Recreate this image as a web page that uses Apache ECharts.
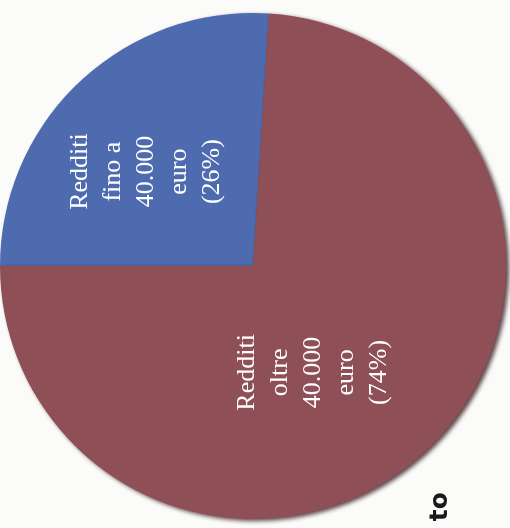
<!DOCTYPE html>
<html>
<head>
<meta charset="utf-8">
<script src="https://cdn.jsdelivr.net/npm/echarts@6/dist/echarts.min.js"></script>
<style>
html,body{margin:0;padding:0;background:#fbfbf9;}
#chart{width:510px;height:528px;}
</style>
</head>
<body>
<div id="chart"></div>
<script>
const categories = ["Redditi\nfino a\n40.000\neuro\n(26%)", "Redditi\noltre\n40.000\neuro\n(74%)"];
const values = [26, 74];
const colors = ["#4e6bb0", "#8e4f56"];

// screen-space label shifts [x, y]
const labelShift = [[-18, 0], [-28, 12]];

const chart = echarts.init(document.getElementById('chart'));
chart.setOption({
  backgroundColor: '#fbfbf9',
  animation: false,
  graphic: [{
    type: 'text',
    left: 428, top: 492,
    rotation: Math.PI / 2,
    style: { text: 'to', font: 'bold 25px "DejaVu Sans"', fill: '#1a1a1a' }
  }],
  series: [{
    type: 'pie',
    center: [253, 266],
    radius: 253,
    startAngle: 180,
    clockwise: true,
    data: categories.map((c, i) => ({ name: c, value: values[i], itemStyle: { color: colors[i] } })),
    itemStyle: {
      shadowColor: 'rgba(40,10,15,0.75)',
      shadowBlur: 4,
      shadowOffsetX: 3,
      shadowOffsetY: 2
    },
    label: {
      show: true,
      position: 'inside',
      rotate: 90,
      formatter: '{b}',
      color: '#ffffff',
      fontFamily: '"Liberation Serif", "DejaVu Serif", serif',
      fontSize: 26,
      lineHeight: 33,
      align: 'center'
    },
    labelLayout: function (p) {
      const s = labelShift[p.dataIndex];
      // label is rotated 90deg, so local offsets are rotated
      return { dx: -s[1], dy: s[0] };
    },
    labelLine: { show: false },
    emphasis: { disabled: true }
  }]
});
</script>
</body>
</html>
